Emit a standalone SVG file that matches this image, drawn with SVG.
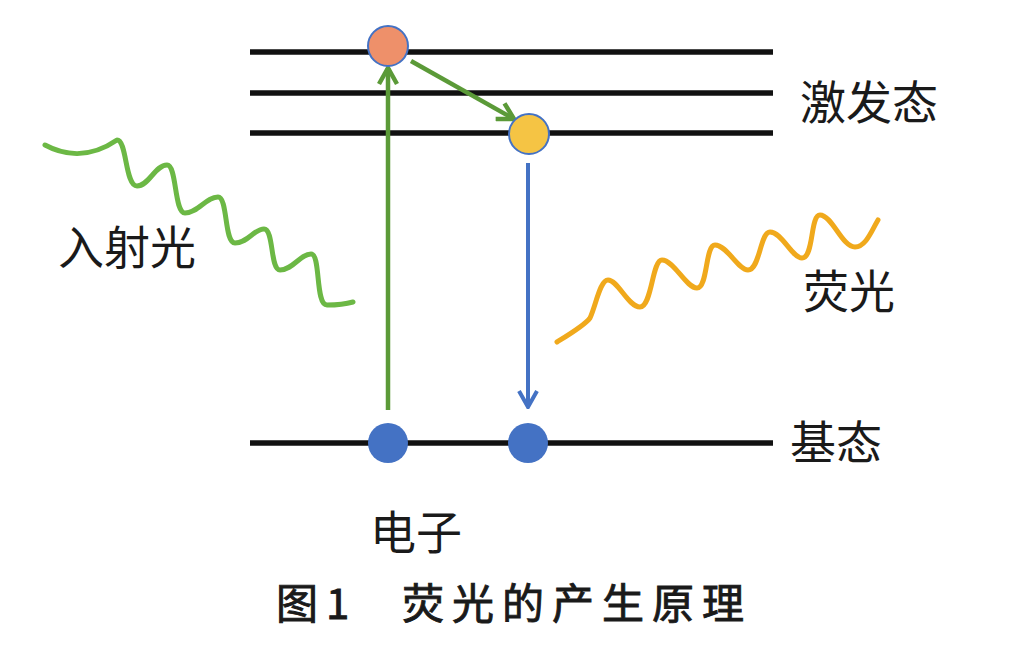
<svg xmlns="http://www.w3.org/2000/svg" width="1024" height="660" viewBox="0 0 1024 660">
<style>
.lvl{stroke:#111;stroke-width:5.5;fill:none}
.lbl{font-family:"Noto Sans CJK SC","Noto Sans",sans-serif;font-size:46px;fill:#1a1a1a}
.cap{font-family:"Noto Sans CJK SC","Noto Sans",sans-serif;font-size:42px;font-weight:normal;fill:#1a1a1a;stroke:#1a1a1a;stroke-width:0.9}
.ga{stroke:#5b9a38;stroke-width:4.5;fill:none}
.ba{stroke:#4472c4;stroke-width:4;fill:none}
.wave{fill:none;stroke-width:5;stroke-linecap:round;stroke-linejoin:round}
.e{stroke:#4472c4;stroke-width:2}
</style>
<defs>
<marker id="mg" viewBox="0 0 20 22" refX="18" refY="11" markerWidth="20" markerHeight="22" markerUnits="userSpaceOnUse" orient="auto">
<path d="M2,2 L18,11 L2,20" fill="none" stroke="#5b9a38" stroke-width="4.5"/>
</marker>
<marker id="mb" viewBox="0 0 20 22" refX="18" refY="11" markerWidth="20" markerHeight="22" markerUnits="userSpaceOnUse" orient="auto">
<path d="M2,2 L18,11 L2,20" fill="none" stroke="#4472c4" stroke-width="4"/>
</marker>
</defs>
<rect width="1024" height="660" fill="#fff"/>
<g id="levels">
<line class="lvl" x1="250" y1="52" x2="773" y2="52"/>
<line class="lvl" x1="250" y1="93" x2="773" y2="93"/>
<line class="lvl" x1="250" y1="133" x2="773" y2="133"/>
<line class="lvl" x1="250" y1="443" x2="773" y2="443"/>
</g>
<g id="incident-light">
<path class="wave" stroke="#6cb845" d="M45,145 C58,152 85,162 117,140 C127,140 125,186 137,186 C149,186 155,165 167,165 C177,165 174,213 185,213 C198,213 206,197 218,197 C228,197 224,243 235,243 C248,243 254,229 264,229 C274,229 270,270 280,270 C293,270 300,254 311,254 C321,254 315,305 327,305 C338,305 346,304 353,302"/>
</g>
<g id="fluorescence-light">
<path class="wave" stroke="#f0a91c" d="M557,342 C570,334 585,325 590,318 C596,305 600,280 608,280 C618,280 628,307 640,307 C652,307 652,260 662,260 C674,260 686,288 697,288 C708,288 705,245 715,245 C727,245 738,270 748,270 C760,270 760,232 770,232 C782,232 792,258 802,258 C814,258 810,215 820,215 C832,215 842,247 855,247 C866,247 872,230 878,220"/>
</g>
<g id="connectors">
<line class="ga" x1="388" y1="410" x2="388" y2="68" marker-end="url(#mg)"/>
<line class="ga" x1="411" y1="61" x2="514" y2="119" marker-end="url(#mg)"/>
<line class="ba" x1="528" y1="163" x2="528" y2="407" marker-end="url(#mb)"/>
</g>
<g id="electron-excited-high"><circle class="e" cx="388" cy="46" r="20" fill="#ee906a"/></g>
<g id="electron-excited-low"><circle class="e" cx="529" cy="134" r="20" fill="#f5c444"/></g>
<g id="electron-ground-1"><circle cx="388" cy="443" r="20" fill="#4472c4"/></g>
<g id="electron-ground-2"><circle cx="528" cy="443" r="20" fill="#4472c4"/></g>
<g id="labels">
<text class="lbl" x="800" y="119">激发态</text>
<text class="lbl" x="58" y="264">入射光</text>
<text class="lbl" x="803" y="308">荧光</text>
<text class="lbl" x="790" y="459">基态</text>
<text class="lbl" x="370" y="549">电子</text>
</g>
<g id="caption">
<text class="cap" x="276" y="619">图</text>
<text class="cap" x="326" y="619">1</text>
<text class="cap" x="402" y="619" letter-spacing="8">荧光的产生原理</text>
</g>
</svg>
